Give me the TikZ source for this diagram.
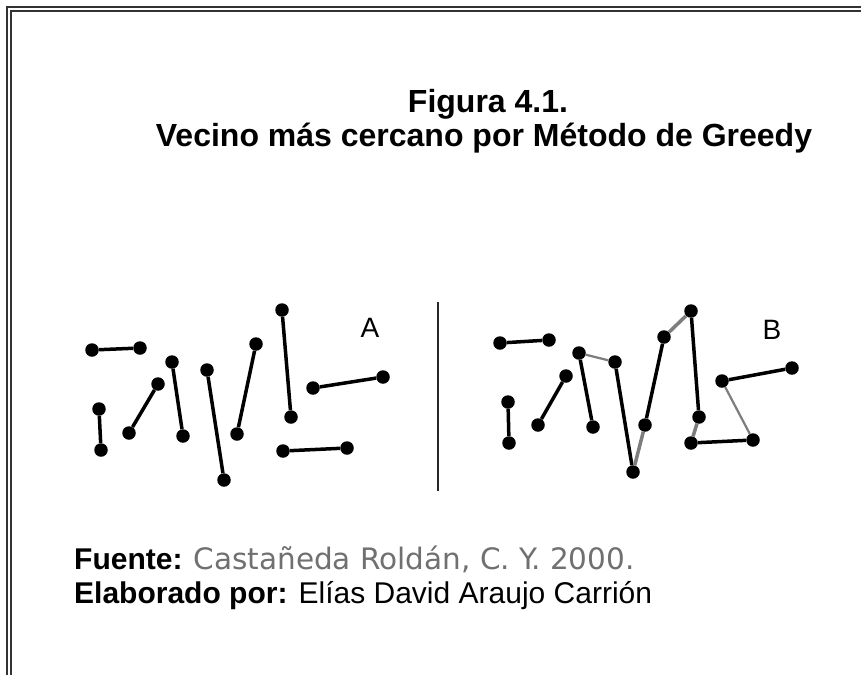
\documentclass[tikz,border=0pt]{standalone}
\usepackage{fontspec}
\setmainfont{Liberation Sans}
\newfontfamily\fuentefont{DejaVu Sans}
\definecolor{edgegray}{RGB}{125,125,125}
\definecolor{srcgray}{RGB}{112,112,112}
\begin{document}
\begin{tikzpicture}[x=1pt,y=-1pt,
  dot/.style={circle,fill=black,inner sep=0pt,minimum size=13.5pt},
  blk/.style={line width=3.5pt,black},
  gry/.style={line width=3.5pt,edgegray},
  gryt/.style={line width=2.2pt,edgegray},
  lbl/.style={font=\fontsize{28}{28}\selectfont,inner sep=0pt},
  ttl/.style={font=\bfseries\fontsize{32}{32}\selectfont,anchor=base,inner sep=0pt},
  foot/.style={anchor=base west,inner sep=0pt,font=\fontsize{30}{30}\selectfont}]
\useasboundingbox (0,0) rectangle (861,675);
\fill[white] (0,0) rectangle (861,675);
% border
\draw[line width=1.6pt,black!80] (7,675) -- (7,7) -- (861,7);
\draw[line width=1.2pt,black!80] (11,675) -- (11,11) -- (861,11);
% title
\node[ttl] (t1) at (488,112) {Figura 4.1.};
\node[ttl] (t2) at (484,146) {Vecino más cercano por Método de Greedy};
% panel A
\foreach \n/\x/\y in {a1/92/350,a2/140/348,a3/99/409,a4/101/450,a5/129/433,a6/158/384,
  a7/172/362,a8/183/436,a9/207/370,a10/224/480,a11/237/434,a12/256/344,a13/282/310,
  a14/291/417,a15/313/388,a16/383/377,a17/283/451,a18/347/448}
  \node[dot] (\n) at (\x,\y) {};
\foreach \u/\v in {a1/a2,a3/a4,a5/a6,a7/a8,a9/a10,a11/a12,a13/a14,a15/a16,a17/a18}
  \draw[blk] (\u) -- (\v);
\node[lbl] (la) at (370,328) {A};
% divider
\coordinate (d1) at (438,302);
\coordinate (d2) at (438,491);
\draw[line width=1.2pt,black!85] (d1) -- (d2);
% panel B
\foreach \n/\x/\y in {b1/500/343,b2/549/340,b3/508/402,b4/509/443,b5/538/425,b6/566/376,
  b7/579/353,b8/593/427,b9/615/362,b10/633/472,b11/645/425,b12/664/337,b13/691/311,
  b14/699/417,b15/722/381,b16/792/368,b17/691/443,b18/753/440}
  \node[dot] (\n) at (\x,\y) {};
\foreach \u/\v in {b1/b2,b3/b4,b5/b6,b7/b8,b9/b10,b11/b12,b13/b14,b15/b16,b17/b18}
  \draw[blk] (\u) -- (\v);
\draw[gryt] (b7) -- (b9);
\draw[gry] (b10) -- (b11);
\draw[gry] (b12) -- (b13);
\draw[gry] (b14) -- (b17);
\draw[gryt] (b15) -- (b18);
\node[lbl] (lb) at (772,330) {B};
% footer
\node[foot] (f1) at (74,569) {\bfseries Fuente: \mdseries\fuentefont\fontsize{29.5}{30}\selectfont\color{srcgray}Castañeda Roldán, C. Y. 2000.};
\node[foot] (f2) at (74,603) {\bfseries Elaborado por: \mdseries Elías David Araujo Carrión};
\end{tikzpicture}
\end{document}
